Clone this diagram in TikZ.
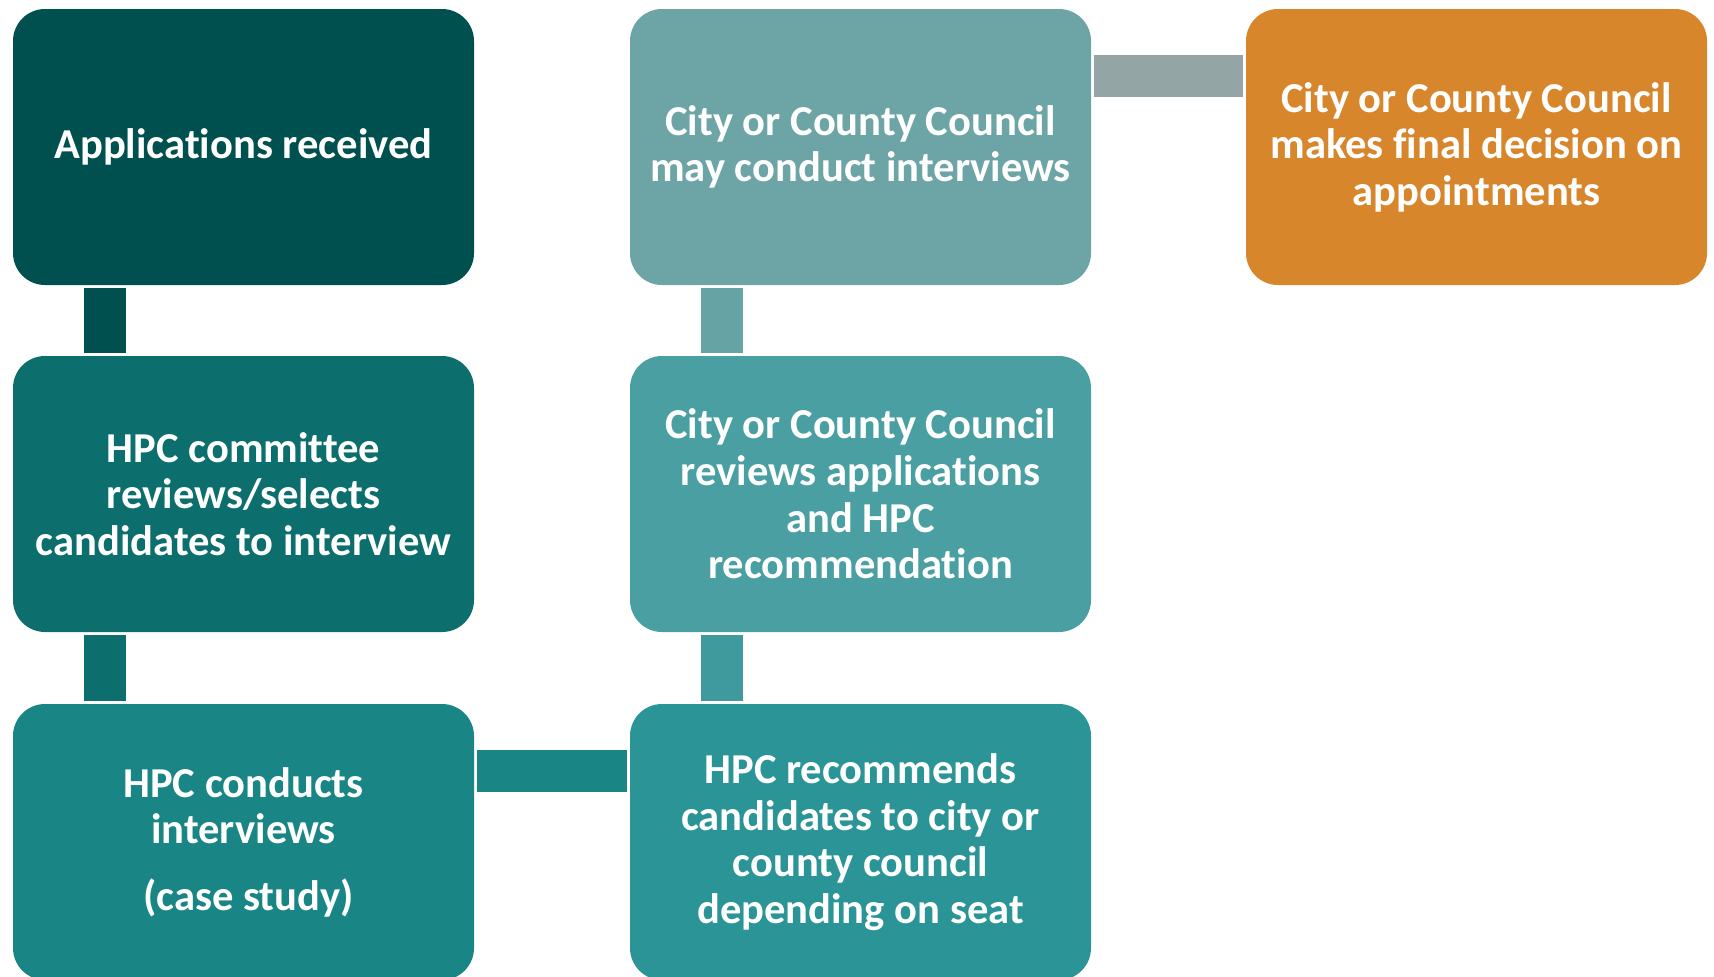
\documentclass[tikz,border=0pt]{standalone}
\usepackage{fontspec}
\setmainfont{Carlito}[Ligatures=CommonOff]
\usetikzlibrary{calc}
\definecolor{tealA}{RGB}{0,80,80}
\definecolor{tealB}{RGB}{13,110,110}
\definecolor{tealC}{RGB}{26,133,133}
\definecolor{tealD}{RGB}{43,148,150}
\definecolor{tealE}{RGB}{74,159,163}
\definecolor{tealF}{RGB}{109,164,166}
\definecolor{barE}{RGB}{63,154,158}
\definecolor{barF}{RGB}{102,163,165}
\definecolor{barG}{RGB}{147,165,165}
\definecolor{orangeA}{RGB}{216,134,44}
\begin{document}
\begin{tikzpicture}[x=0.5pt, y=-0.5pt,
    box/.style={rectangle, rounded corners=16pt, minimum width=230.5pt, minimum height=138pt,
      inner sep=0pt, outer sep=0pt, text=white, align=center,
      font=\fontsize{21.3}{23.3}\selectfont\bfseries},
    link/.style={line width=21pt, shorten <=1.5pt, shorten >=1.5pt}]
  \useasboundingbox (0,0) rectangle (1714,976);
  \clip (0,0) rectangle (1714,976);

  % first column
  \node[box, fill=tealA] (apps) at (243.5,147) {Applications received};
  \node[box, fill=tealB] (select) at (243.5,494) {HPC committee\\reviews/selects\\candidates to interview};
  \node[box, fill=tealC] (interview) at (243.5,842) {HPC conducts\\interviews\\[10pt]\hspace*{5pt}(case study)};

  % second column
  \node[box, fill=tealF] (councilint) at (860.5,147) {City or County Council\\may conduct interviews};
  \node[box, fill=tealE] (councilrev) at (860.5,494) {City or County Council\\reviews applications\\and HPC\\recommendation};
  \node[box, fill=tealD] (recommend) at (860.5,842) {HPC recommends\\candidates to city or\\county council\\depending on seat};

  % last step
  \node[box, fill=orangeA] (final) at (1476.5,147) {City or County Council\\makes final decision on\\appointments};

  % links
  \draw[link, tealA] ($(apps.south west)+(92,0)$) -- ($(select.north west)+(92,0)$);
  \draw[link, tealB] ($(select.south west)+(92,0)$) -- ($(interview.north west)+(92,0)$);
  \draw[link, tealC] ($(interview.north east)+(0,67)$) -- ($(recommend.north west)+(0,67)$);
  \draw[link, barE] ($(recommend.north west)+(92,0)$) -- ($(councilrev.south west)+(92,0)$);
  \draw[link, barF] ($(councilrev.north west)+(92,0)$) -- ($(councilint.south west)+(92,0)$);
  \draw[link, barG] ($(councilint.north east)+(0,67)$) -- ($(final.north west)+(0,67)$);
\end{tikzpicture}
\end{document}
